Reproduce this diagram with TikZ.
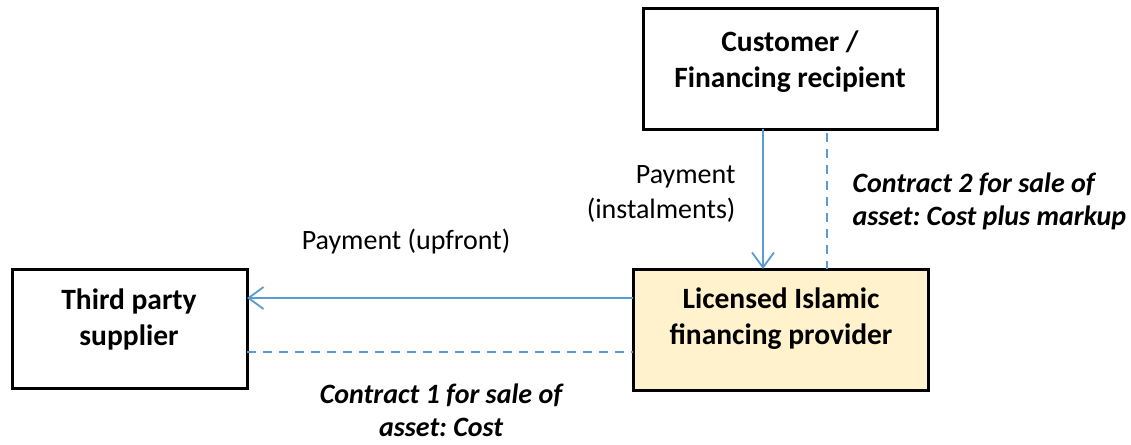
\documentclass[tikz,border=0pt]{standalone}
\usepackage{fontspec}
\setmainfont{Carlito}
\frenchspacing
\usetikzlibrary{arrows.meta}
\definecolor{flowblue}{HTML}{5B9BD5}
\definecolor{providerfill}{HTML}{FFF2CC}
\tikzset{
  party/.style={draw=black, line width=3pt, inner sep=0pt},
  boxtext/.style={font=\fontsize{29.5}{36}\selectfont\bfseries, align=center},
  flowlabel/.style={font=\fontsize{28}{35}\selectfont},
  contractlabel/.style={font=\fontsize{28}{33}\selectfont\bfseries\itshape},
  payflow/.style={draw=flowblue, line width=1.8pt, -{Straight Barb[length=15pt,width=22pt,line width=1.8pt]}},
  contractflow/.style={draw=flowblue, line width=1.8pt, dash pattern=on 9pt off 7pt},
}
\begin{document}
\begin{tikzpicture}[x=1pt, y=-1pt]
  \useasboundingbox (0,0) rectangle (1131,444);

  % parties
  \draw[party] (643,9) rectangle (937,129);
  \coordinate (custS) at (763,129);
  \coordinate (custSd) at (827,133);
  \node[boxtext] (cust) at (790,62) {Customer /\\Financing recipient};

  \draw[party, fill=providerfill] (633,269) rectangle (928,390);
  \coordinate (provN) at (763,269);
  \coordinate (provNd) at (827,269);
  \coordinate (provW) at (633,298);
  \coordinate (provWd) at (633,352);
  \node[boxtext] (prov) at (781,319) {Licensed Islamic\\financing provider};

  \draw[party] (12,269) rectangle (247,388);
  \coordinate (suppE) at (247,298);
  \coordinate (suppEd) at (247,352);
  \node[boxtext] (supp) at (129,319) {Third party\\supplier};

  % payments
  \draw[payflow] (custS) -- (provN);
  \draw[payflow] (provW) -- (suppE);

  % contracts
  \draw[contractflow] (custSd) -- (provNd);
  \draw[contractflow] (suppEd) -- (provWd);

  % labels
  \node[flowlabel] (payup) at (406,242) {Payment (upfront)};
  \node[flowlabel, align=right, anchor=east] (payinst) at (739,194) {Payment\\(instalments)};
  \node[contractlabel, align=left, anchor=west] (c2) at (849,201) {Contract 2 for sale of\\asset: Cost plus markup};
  \node[contractlabel, align=center] (c1) at (441,410) {Contract 1 for sale of\\asset: Cost};
\end{tikzpicture}
\end{document}
